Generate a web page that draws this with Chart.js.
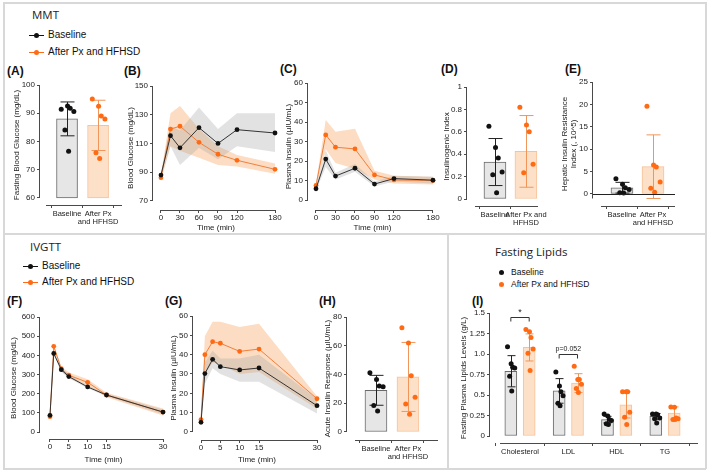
<!DOCTYPE html>
<html lang="en">
<head>
<meta charset="UTF-8">
<title>MMT, IVGTT and fasting lipids</title>
<script src="https://cdn.jsdelivr.net/npm/chart.js"></script>
<style>
  body { margin:0; width:709px; height:472px; background:#fff; position:relative; overflow:hidden;
         font-family:'Liberation Sans', Arial, sans-serif; color:#111; }
  canvas { position:absolute; }
  .frame { position:absolute; background:#d8d8d8; }
  .lbl { position:absolute; white-space:nowrap; }
  .panel { font-weight:bold; font-size:12px; line-height:14px; }
  .section { font-family:'Open Sans', sans-serif; font-size:11.5px; line-height:16px; color:#222; }
  .leg { font-size:10px; line-height:12px; }
  .leg.small { font-size:8.5px; }
  .mk { display:inline-block; position:relative; width:17px; height:12px; vertical-align:top; margin-right:3px; }
  .mk::before { content:''; position:absolute; left:1px; right:1px; top:5.5px; height:1px; background:currentColor; }
  .mk::after { content:''; position:absolute; left:6px; top:3.5px; width:5px; height:5px; border-radius:50%; background:currentColor; }
  .mk.dot { width:10px; }
  .mk.dot::before { display:none; }
  .mk.dot::after { left:1px; }
  .blk { color:#111; }
  .org { color:#ff6a13; }
</style>
</head>
<body>
<div class="frame" style="left:3px;top:2px;width:703px;height:1.5px"></div>
<div class="frame" style="left:3px;top:233px;width:703px;height:1.5px"></div>
<div class="frame" style="left:3px;top:468px;width:703px;height:1.5px"></div>
<div class="frame" style="left:3px;top:2px;width:1.5px;height:467px"></div>
<div class="frame" style="left:705px;top:2px;width:1.5px;height:467px"></div>
<div class="frame" style="left:447px;top:233px;width:1.5px;height:236px"></div>

<div class="lbl section" style="left:32px;top:7px">MMT</div>
<div class="lbl leg" style="left:28px;top:29px"><span class="mk blk"></span>Baseline</div>
<div class="lbl leg" style="left:28px;top:46px"><span class="mk org"></span>After Px and HFHSD</div>

<div class="lbl section" style="left:30px;top:239px">IVGTT</div>
<div class="lbl leg" style="left:22px;top:260px"><span class="mk blk"></span>Baseline</div>
<div class="lbl leg" style="left:22px;top:276px"><span class="mk org"></span>After Px and HFHSD</div>

<div class="lbl section" style="left:495px;top:244px">Fasting Lipids</div>
<div class="lbl leg small" style="left:498px;top:266px"><span class="mk dot blk"></span>Baseline</div>
<div class="lbl leg small" style="left:498px;top:278px"><span class="mk dot org"></span>After Px and HFHSD</div>

<div class="lbl panel" style="left:7px;top:64px">(A)</div>
<div class="lbl panel" style="left:124px;top:64px">(B)</div>
<div class="lbl panel" style="left:280px;top:62px">(C)</div>
<div class="lbl panel" style="left:441px;top:62px">(D)</div>
<div class="lbl panel" style="left:565px;top:62px">(E)</div>
<div class="lbl panel" style="left:7px;top:294px">(F)</div>
<div class="lbl panel" style="left:165px;top:294px">(G)</div>
<div class="lbl panel" style="left:319px;top:294px">(H)</div>
<div class="lbl panel" style="left:472px;top:294px">(I)</div>

<script>
// ---- data ----
const GROUP_LABELS = ['Baseline', ['After Px', 'and HFHSD']];
const GROUP_LABELS_D = ['Baseline', ['After Px and', 'HFHSD']];

// (A) fasting glucose
const A_BASE_PTS = [91.4, 92.6, 91.8, 90.6, 84.1, 76.5];
const A_PX_PTS = [95, 92.5, 89, 88, 76, 74];
const A_MEAN = [88, 85.7];
const A_SD = [6, 8.9];

// (B) MMT glucose
const MMT_TIME = [0, 15, 30, 60, 90, 120, 180];
const B_BASE = [88, 115.4, 107, 121, 110, 119.6, 117.3];
const B_BASE_HI = [90, 122, 119, 135, 120, 131, 131];
const B_BASE_LO = [86, 108, 95, 107, 99, 108, 104];
const B_PX = [86.2, 120, 122, 110.8, 102.5, 98.3, 92];
const B_PX_HI = [88, 131, 136, 120, 108, 102, 96];
const B_PX_LO = [84, 108, 105, 100, 95, 94, 89];

// (C) MMT insulin
const C_BASE = [5.8, 21, 12.3, 16.3, 8.2, 11, 10.2];
const C_BASE_HI = [7, 25.5, 14, 18.5, 9.5, 12.5, 12];
const C_BASE_LO = [4.8, 17, 10.5, 14.5, 7, 9.5, 8.5];
const C_PX = [7.5, 33.4, 27.1, 26.2, 12.9, 10.3, 10];
const C_PX_HI = [8.5, 41, 35, 36.5, 15, 12.5, 12];
const C_PX_LO = [6.5, 26, 19, 16, 10.5, 8.5, 8];

// (D) insulinogenic index
const D_BASE_PTS = [0.65, 0.46, 0.365, 0.24, 0.217, 0.056];
const D_PX_PTS = [0.82, 0.66, 0.6, 0.31, 0.234];
const D_MEAN = [0.33, 0.425];
const D_SD = [0.21, 0.32];

// (E) hepatic insulin resistance
const E_BASE_PTS = [3.4, 2.2, 1.4, 1.0, 0.3, 0.2];
const E_PX_PTS = [19.6, 6.5, 6.0, 2.7, 1.3, 0.4];
const E_MEAN = [1.4, 6.1];
const E_SD = [1.2, 7.1];

// (F) IVGTT glucose
const IV_TIME = [0, 1, 3, 5, 10, 15, 30];
const F_BASE = [87, 410, 325, 289, 235, 193, 104];
const F_BASE_HI = [92, 420, 335, 298, 242, 200, 118];
const F_BASE_LO = [82, 400, 315, 280, 228, 186, 92];
const F_PX = [80, 447, 330, 296, 259, 193, 104];
const F_PX_HI = [86, 455, 342, 310, 275, 205, 122];
const F_PX_LO = [74, 435, 318, 282, 243, 181, 86];

// (G) IVGTT insulin
const G_BASE = [5, 30.2, 37.6, 33.8, 32.1, 33.1, 13.6];
const G_BASE_HI = [6, 36, 42, 38, 38, 40, 17];
const G_BASE_LO = [4, 25, 33, 30, 26, 26, 9.5];
const G_PX = [6.4, 40, 46.7, 45.9, 41.7, 42.9, 17.2];
const G_PX_HI = [8, 49.5, 57, 57, 54.3, 56, 18.5];
const G_PX_LO = [5, 30, 36, 35, 30, 31, 12];

// (H) acute insulin response
const H_BASE_PTS = [41.3, 36.6, 32, 31.5, 18.5, 14.6];
const H_PX_PTS = [72.6, 61.9, 39.2, 24.1, 19.5, 12.3];
const H_MEAN = [29, 38.3];
const H_SD = [10.4, 24];

// (I) fasting lipids
const LIPIDS = ['Cholesterol', 'LDL', 'HDL', 'TG'];
const I_BASE_MEAN = [0.79, 0.55, 0.20, 0.24];
const I_BASE_SD = [0.19, 0.15, 0.04, 0.035];
const I_PX_MEAN = [1.08, 0.645, 0.38, 0.28];
const I_PX_SD = [0.165, 0.115, 0.16, 0.075];
const I_BASE_PTS = [
  [1.09, 0.88, 0.84, 0.83, 0.73, 0.55],
  [0.78, 0.61, 0.54, 0.49, 0.40, 0.37],
  [0.27, 0.245, 0.20, 0.19, 0.15, 0.14],
  [0.27, 0.27, 0.26, 0.22, 0.21, 0.16]
];
const I_PX_PTS = [
  [1.30, 1.27, 1.20, 1.06, 1.01, 0.80],
  [0.85, 0.69, 0.69, 0.63, 0.58, 0.53],
  [0.54, 0.54, 0.54, 0.29, 0.23, 0.14],
  [0.355, 0.35, 0.22, 0.21, 0.20, 0.20]
];
const I_SIG = [{cat: 1, y: 1.45, text: '*'}, {cat: 2, y: 1.0, text: 'p=0.052'}];

// ---- styling ----
const FONT = "'Liberation Sans', Arial, sans-serif";
const AXIS = '#4a4a4a';
const TXT = '#222';
const BLACK = '#111';
const ORANGE = '#ff6a13';
const STYLE = {
  base: {bar: '#e6e6e6', border: '#6a6a6a', err: '#222', dot: BLACK, line: '#333', band: 'rgba(160,160,160,0.3)'},
  px: {bar: '#fde0c8', border: '#f7c298', err: '#f0965a', dot: ORANGE, line: '#f07f3c', band: 'rgba(247,150,70,0.33)'}
};
const JITTER = [-0.55, 0.05, 0.3, 0.65, -0.2, 0.15];
const GROUP_OFFSET = 0.19;
const TICK_FONT = {size: 8, lineHeight: 1};
const CAT_FONT = {size: 7.5, lineHeight: 1.05};

Chart.defaults.font.family = FONT;
Chart.defaults.color = TXT;

// axis lines drawn GraphPad style (offset from each other)
const prismAxes = {
  id: 'prismAxes',
  afterDraw(chart, args, o) {
    const {ctx, chartArea: a, scales: {x, y}} = chart;
    ctx.save();
    ctx.strokeStyle = AXIS;
    ctx.lineWidth = 1;
    const yt = y.ticks;
    const lx = a.left - 0.5;
    const yTop = y.getPixelForValue(yt[yt.length - 1].value);
    const yBot = y.getPixelForValue(o.yLineMin !== undefined ? o.yLineMin : yt[0].value);
    ctx.beginPath();
    ctx.moveTo(lx, yTop); ctx.lineTo(lx, yBot);
    const by = Math.round(a.bottom) + 0.5;
    let x0, x1;
    if (o.xFromTicks) {
      x0 = x.getPixelForValue(x.ticks[0].value);
      x1 = x.getPixelForValue(x.ticks[x.ticks.length - 1].value);
    } else {
      x0 = a.left + (o.xGap || 5);
      x1 = a.right;
    }
    ctx.moveTo(x0, by); ctx.lineTo(x1, by);
    ctx.stroke();
    if (o.zeroLine) {
      const zy = Math.round(y.getPixelForValue(0)) + 0.5;
      ctx.strokeStyle = '#222';
      ctx.beginPath(); ctx.moveTo(a.left, zy); ctx.lineTo(a.right, zy); ctx.stroke();
    }
    ctx.restore();
  }
};

// mean +/- SD whiskers on bar datasets
const errorBars = {
  id: 'errorBars',
  afterDatasetDraw(chart, args) {
    const ds = chart.data.datasets[args.index];
    if (!ds.sd) return;
    const y = chart.scales.y, ctx = chart.ctx;
    ctx.save();
    ctx.strokeStyle = ds.errColor;
    ctx.lineWidth = 1;
    args.meta.data.forEach((bar, j) => {
      const v = ds.data[j].y;
      const m = Array.isArray(v) ? v[1] : v;
      const top = y.getPixelForValue(m + ds.sd[j]);
      const bot = y.getPixelForValue(m - ds.sd[j]);
      const cx = Math.round(bar.x) + 0.5, w = ds.cap / 2;
      ctx.beginPath();
      ctx.moveTo(cx, top); ctx.lineTo(cx, bot);
      ctx.moveTo(cx - w, top); ctx.lineTo(cx + w, top);
      ctx.moveTo(cx - w, bot); ctx.lineTo(cx + w, bot);
      ctx.stroke();
    });
    ctx.restore();
  }
};

// comparison brackets for panel I
const sigBrackets = {
  id: 'sigBrackets',
  afterDatasetsDraw(chart, args, o) {
    if (!o.items) return;
    const {ctx, scales: {x, y}} = chart;
    ctx.save();
    ctx.strokeStyle = '#333';
    ctx.fillStyle = '#222';
    ctx.lineWidth = 1;
    ctx.textAlign = 'center';
    ctx.textBaseline = 'bottom';
    o.items.forEach(s => {
      const x0 = x.getPixelForValue(s.cat - GROUP_OFFSET);
      const x1 = x.getPixelForValue(s.cat + GROUP_OFFSET);
      const yy = Math.round(y.getPixelForValue(s.y)) + 0.5;
      ctx.beginPath();
      ctx.moveTo(x0, yy + 4); ctx.lineTo(x0, yy); ctx.lineTo(x1, yy); ctx.lineTo(x1, yy + 4);
      ctx.stroke();
      ctx.font = s.text === '*' ? '9px ' + FONT : '7px ' + FONT;
      ctx.fillText(s.text, (x0 + x1) / 2, yy - (s.text === '*' ? 0 : 2));
    });
    ctx.restore();
  }
};

function makeCanvas(p) {
  const c = document.createElement('canvas');
  c.width = p.w; c.height = p.h;
  c.style.left = p.l + 'px'; c.style.top = p.t + 'px';
  c.style.width = p.w + 'px'; c.style.height = p.h + 'px';
  document.body.appendChild(c);
  return c;
}

function yAxis(p) {
  return {
    type: 'linear', min: p.yMin, max: p.yMax,
    afterBuildTicks: s => { s.ticks = p.yTicks.map(v => ({value: v})); },
    afterFit: s => { s.width = p.yw; s.paddingTop = 0; s.paddingBottom = 0; },
    border: {display: false},
    grid: {display: true, drawOnChartArea: false, drawTicks: true, tickLength: 3, color: AXIS},
    ticks: {font: TICK_FONT, color: TXT, padding: 2, autoSkip: false, callback: p.yFmt || (v => String(v))},
    title: {display: true, text: p.yTitle, font: {size: 8, lineHeight: 1.05}, color: TXT, padding: 0}
  };
}

function xAxis(p) {
  const ax = {
    type: 'linear', min: p.xMin, max: p.xMax, offset: false,
    afterBuildTicks: s => { s.ticks = p.xTicks.map(v => ({value: v})); },
    afterFit: s => { s.height = p.xh; s.paddingLeft = 0; s.paddingRight = 0; },
    border: {display: false},
    grid: {display: true, drawOnChartArea: false, drawTicks: true, tickLength: 3, color: AXIS},
    ticks: {font: TICK_FONT, color: TXT, padding: 1, autoSkip: false, maxRotation: 0},
    title: {display: false}
  };
  if (p.xLabels) {
    ax.ticks.font = CAT_FONT;
    ax.ticks.padding = 2;
    ax.ticks.callback = (v) => p.xLabels[Math.round(v) - 1];
  } else {
    ax.title = {display: true, text: 'Time (min)', font: {size: 8, lineHeight: 1.1}, color: TXT, padding: {top: 2, bottom: 0}};
  }
  return ax;
}

function baseOptions(p) {
  return {
    responsive: false, animation: false, events: [],
    layout: {padding: {left: 0, top: p.padTop, right: p.padRight, bottom: 0}},
    scales: {x: xAxis(p), y: yAxis(p)},
    plugins: {
      legend: {display: false}, tooltip: {enabled: false},
      prismAxes: {xFromTicks: !p.xLabels, xGap: p.xGap, zeroLine: p.zeroLine, yLineMin: p.yLineMin},
      sigBrackets: {items: p.sig}
    }
  };
}

function xy(xs, ys) { return xs.map((x, i) => ({x, y: ys[i]})); }

// time course with shaded SD band
function curvePanel(p) {
  const line = (ys, st) => ({
    data: xy(p.time, ys), borderColor: st.line, borderWidth: 1,
    pointRadius: 2.4, pointBackgroundColor: st.dot, pointBorderWidth: 0, fill: false, tension: 0
  });
  const edge = (ys, st, fill) => ({
    data: xy(p.time, ys), borderWidth: 0, borderColor: 'transparent', pointRadius: 0,
    backgroundColor: st.band, fill: fill, tension: 0
  });
  new Chart(makeCanvas(p), {
    type: 'line',
    data: {datasets: [
      line(p.base, STYLE.base), line(p.px, STYLE.px),
      edge(p.baseHi, STYLE.base, '+1'), edge(p.baseLo, STYLE.base, false),
      edge(p.pxHi, STYLE.px, '+1'), edge(p.pxLo, STYLE.px, false)
    ]},
    options: baseOptions(p),
    plugins: [prismAxes]
  });
}

// bars (mean +/- SD) with individual values
function barPanel(p) {
  const ppu = (p.w - p.yw - p.padRight) / (p.xMax - p.xMin);
  const half = p.bar / 2 / ppu;
  const scatter = [], bars = [];
  p.groups.forEach(g => {
    const st = STYLE[g.kind];
    const pts = [];
    g.pos.forEach((x, i) => g.points[i].forEach((v, k) => pts.push({x: x + JITTER[k % JITTER.length] * half, y: v})));
    scatter.push({type: 'scatter', data: pts, pointRadius: 2.5, pointBackgroundColor: st.dot, pointBorderWidth: 0});
    bars.push({
      type: 'bar', data: g.pos.map((x, i) => ({x, y: [p.barBase, g.means[i]]})),
      backgroundColor: st.bar, borderColor: st.border, borderWidth: 1, borderSkipped: false,
      barThickness: p.bar, grouped: false, sd: g.sds, errColor: st.err, cap: p.cap
    });
  });
  new Chart(makeCanvas(p), {
    type: 'bar',
    data: {datasets: scatter.concat(bars)},
    options: baseOptions(p),
    plugins: [prismAxes, errorBars, sigBrackets]
  });
}

// (A)
barPanel({l: 13, t: 78, w: 114, h: 154, yw: 27, xh: 27, padTop: 7, padRight: 5,
  yMin: 57.5, yMax: 100, yTicks: [60, 70, 80, 90, 100], yTitle: 'Fasting Blood Glucose (mg/dL)',
  xMin: 0.13, xMax: 2.77, xTicks: [1, 2], xLabels: GROUP_LABELS, xGap: 6,
  bar: 21, cap: 14, barBase: 60,
  groups: [
    {kind: 'base', pos: [1], means: [A_MEAN[0]], sds: [A_SD[0]], points: [A_BASE_PTS]},
    {kind: 'px', pos: [2], means: [A_MEAN[1]], sds: [A_SD[1]], points: [A_PX_PTS]}
  ]});

// (B)
curvePanel({l: 127, t: 78, w: 157, h: 154, yw: 26, xh: 22, padTop: 8, padRight: 5,
  yMin: 63.7, yMax: 150, yTicks: [70, 90, 110, 130, 150], yTitle: 'Blood Glucose (mg/dL)',
  xMin: -12.6, xMax: 186.3, xTicks: [0, 30, 60, 90, 120, 180],
  time: MMT_TIME, base: B_BASE, baseHi: B_BASE_HI, baseLo: B_BASE_LO, px: B_PX, pxHi: B_PX_HI, pxLo: B_PX_LO});

// (C)
curvePanel({l: 285, t: 76, w: 157, h: 156, yw: 23, xh: 22, padTop: 7, padRight: 5,
  yMin: -5.1, yMax: 60, yTicks: [0, 10, 20, 30, 40, 50, 60], yTitle: 'Plasma Insulin (µIU/mL)',
  xMin: -12.3, xMax: 186.2, xTicks: [0, 30, 60, 90, 120, 180],
  time: MMT_TIME, base: C_BASE, baseHi: C_BASE_HI, baseLo: C_BASE_LO, px: C_PX, pxHi: C_PX_HI, pxLo: C_PX_LO});

// (D)
barPanel({l: 443, t: 78, w: 112, h: 154, yw: 24, xh: 26, padTop: 9, padRight: 17,
  yMin: -0.0625, yMax: 1, yTicks: [0, 0.2, 0.4, 0.6, 0.8, 1], yTitle: 'Insulinogenic Index',
  xMin: 0.097, xMax: 2.39, xTicks: [1, 2], xLabels: GROUP_LABELS_D, xGap: 8,
  bar: 22, cap: 14, barBase: 0,
  groups: [
    {kind: 'base', pos: [1], means: [D_MEAN[0]], sds: [D_SD[0]], points: [D_BASE_PTS]},
    {kind: 'px', pos: [2], means: [D_MEAN[1]], sds: [D_SD[1]], points: [D_PX_PTS]}
  ]});

// (E)
barPanel({l: 561, t: 76, w: 119, h: 156, yw: 32, xh: 26, padTop: 6, padRight: 5,
  yMin: -2.68, yMax: 25, yTicks: [0, 5, 10, 15, 20, 25], yLineMin: -1,
  yTitle: ['Hepatic Insulin Resistance', 'Index (, 10^5)'],
  xMin: 0.065, xMax: 2.71, xTicks: [1, 2], xLabels: GROUP_LABELS, xGap: 8, zeroLine: true,
  bar: 22, cap: 14, barBase: 0,
  groups: [
    {kind: 'base', pos: [1], means: [E_MEAN[0]], sds: [E_SD[0]], points: [E_BASE_PTS]},
    {kind: 'px', pos: [2], means: [E_MEAN[1]], sds: [E_SD[1]], points: [E_PX_PTS]}
  ]});

// (F)
curvePanel({l: 10, t: 308, w: 162, h: 156, yw: 30, xh: 25, padTop: 9, padRight: 5,
  yMin: -36.5, yMax: 600, yTicks: [0, 100, 200, 300, 400, 500, 600], yTitle: 'Blood Glucose (mg/dL)',
  xMin: -2.65, xMax: 31.06, xTicks: [0, 5, 10, 15, 30],
  time: IV_TIME, base: F_BASE, baseHi: F_BASE_HI, baseLo: F_BASE_LO, px: F_PX, pxHi: F_PX_HI, pxLo: F_PX_LO});

// (G)
curvePanel({l: 170, t: 308, w: 156, h: 156, yw: 23, xh: 24, padTop: 8, padRight: 5,
  yMin: -4.14, yMax: 60, yTicks: [0, 10, 20, 30, 40, 50, 60], yTitle: 'Plasma Insulin (µIU/mL)',
  xMin: -2.07, xMax: 31.03, xTicks: [0, 5, 10, 15, 30],
  time: IV_TIME, base: G_BASE, baseHi: G_BASE_HI, baseLo: G_BASE_LO, px: G_PX, pxHi: G_PX_HI, pxLo: G_PX_LO});

// (H)
barPanel({l: 324, t: 308, w: 119, h: 162, yw: 23, xh: 30, padTop: 9, padRight: 5,
  yMin: -5.57, yMax: 80, yTicks: [0, 20, 40, 60, 80], yTitle: 'Acute Insulin Response (µIU/mL)',
  xMin: 0.094, xMax: 2.94, xTicks: [1, 2], xLabels: GROUP_LABELS, xGap: 8,
  bar: 22, cap: 14, barBase: 0,
  groups: [
    {kind: 'base', pos: [1], means: [H_MEAN[0]], sds: [H_SD[0]], points: [H_BASE_PTS]},
    {kind: 'px', pos: [2], means: [H_MEAN[1]], sds: [H_SD[1]], points: [H_PX_PTS]}
  ]});

// (I)
const catPos = LIPIDS.map((c, i) => i + 1);
barPanel({l: 460, t: 305, w: 243, h: 160, yw: 30, xh: 22, padTop: 8, padRight: 5,
  yMin: -0.085, yMax: 1.5, yTicks: [0, 0.25, 0.5, 0.75, 1, 1.25, 1.5],
  yFmt: v => (v === 1 ? '1.0' : String(v)), yTitle: 'Fasting Plasma Lipids Levels (g/L)',
  xMin: 0.379, xMax: 4.683, xTicks: catPos, xLabels: LIPIDS, xGap: 10,
  bar: 12, cap: 8, barBase: 0, sig: I_SIG,
  groups: [
    {kind: 'base', pos: catPos.map(c => c - GROUP_OFFSET), means: I_BASE_MEAN, sds: I_BASE_SD, points: I_BASE_PTS},
    {kind: 'px', pos: catPos.map(c => c + GROUP_OFFSET), means: I_PX_MEAN, sds: I_PX_SD, points: I_PX_PTS}
  ]});
</script>
</body>
</html>
